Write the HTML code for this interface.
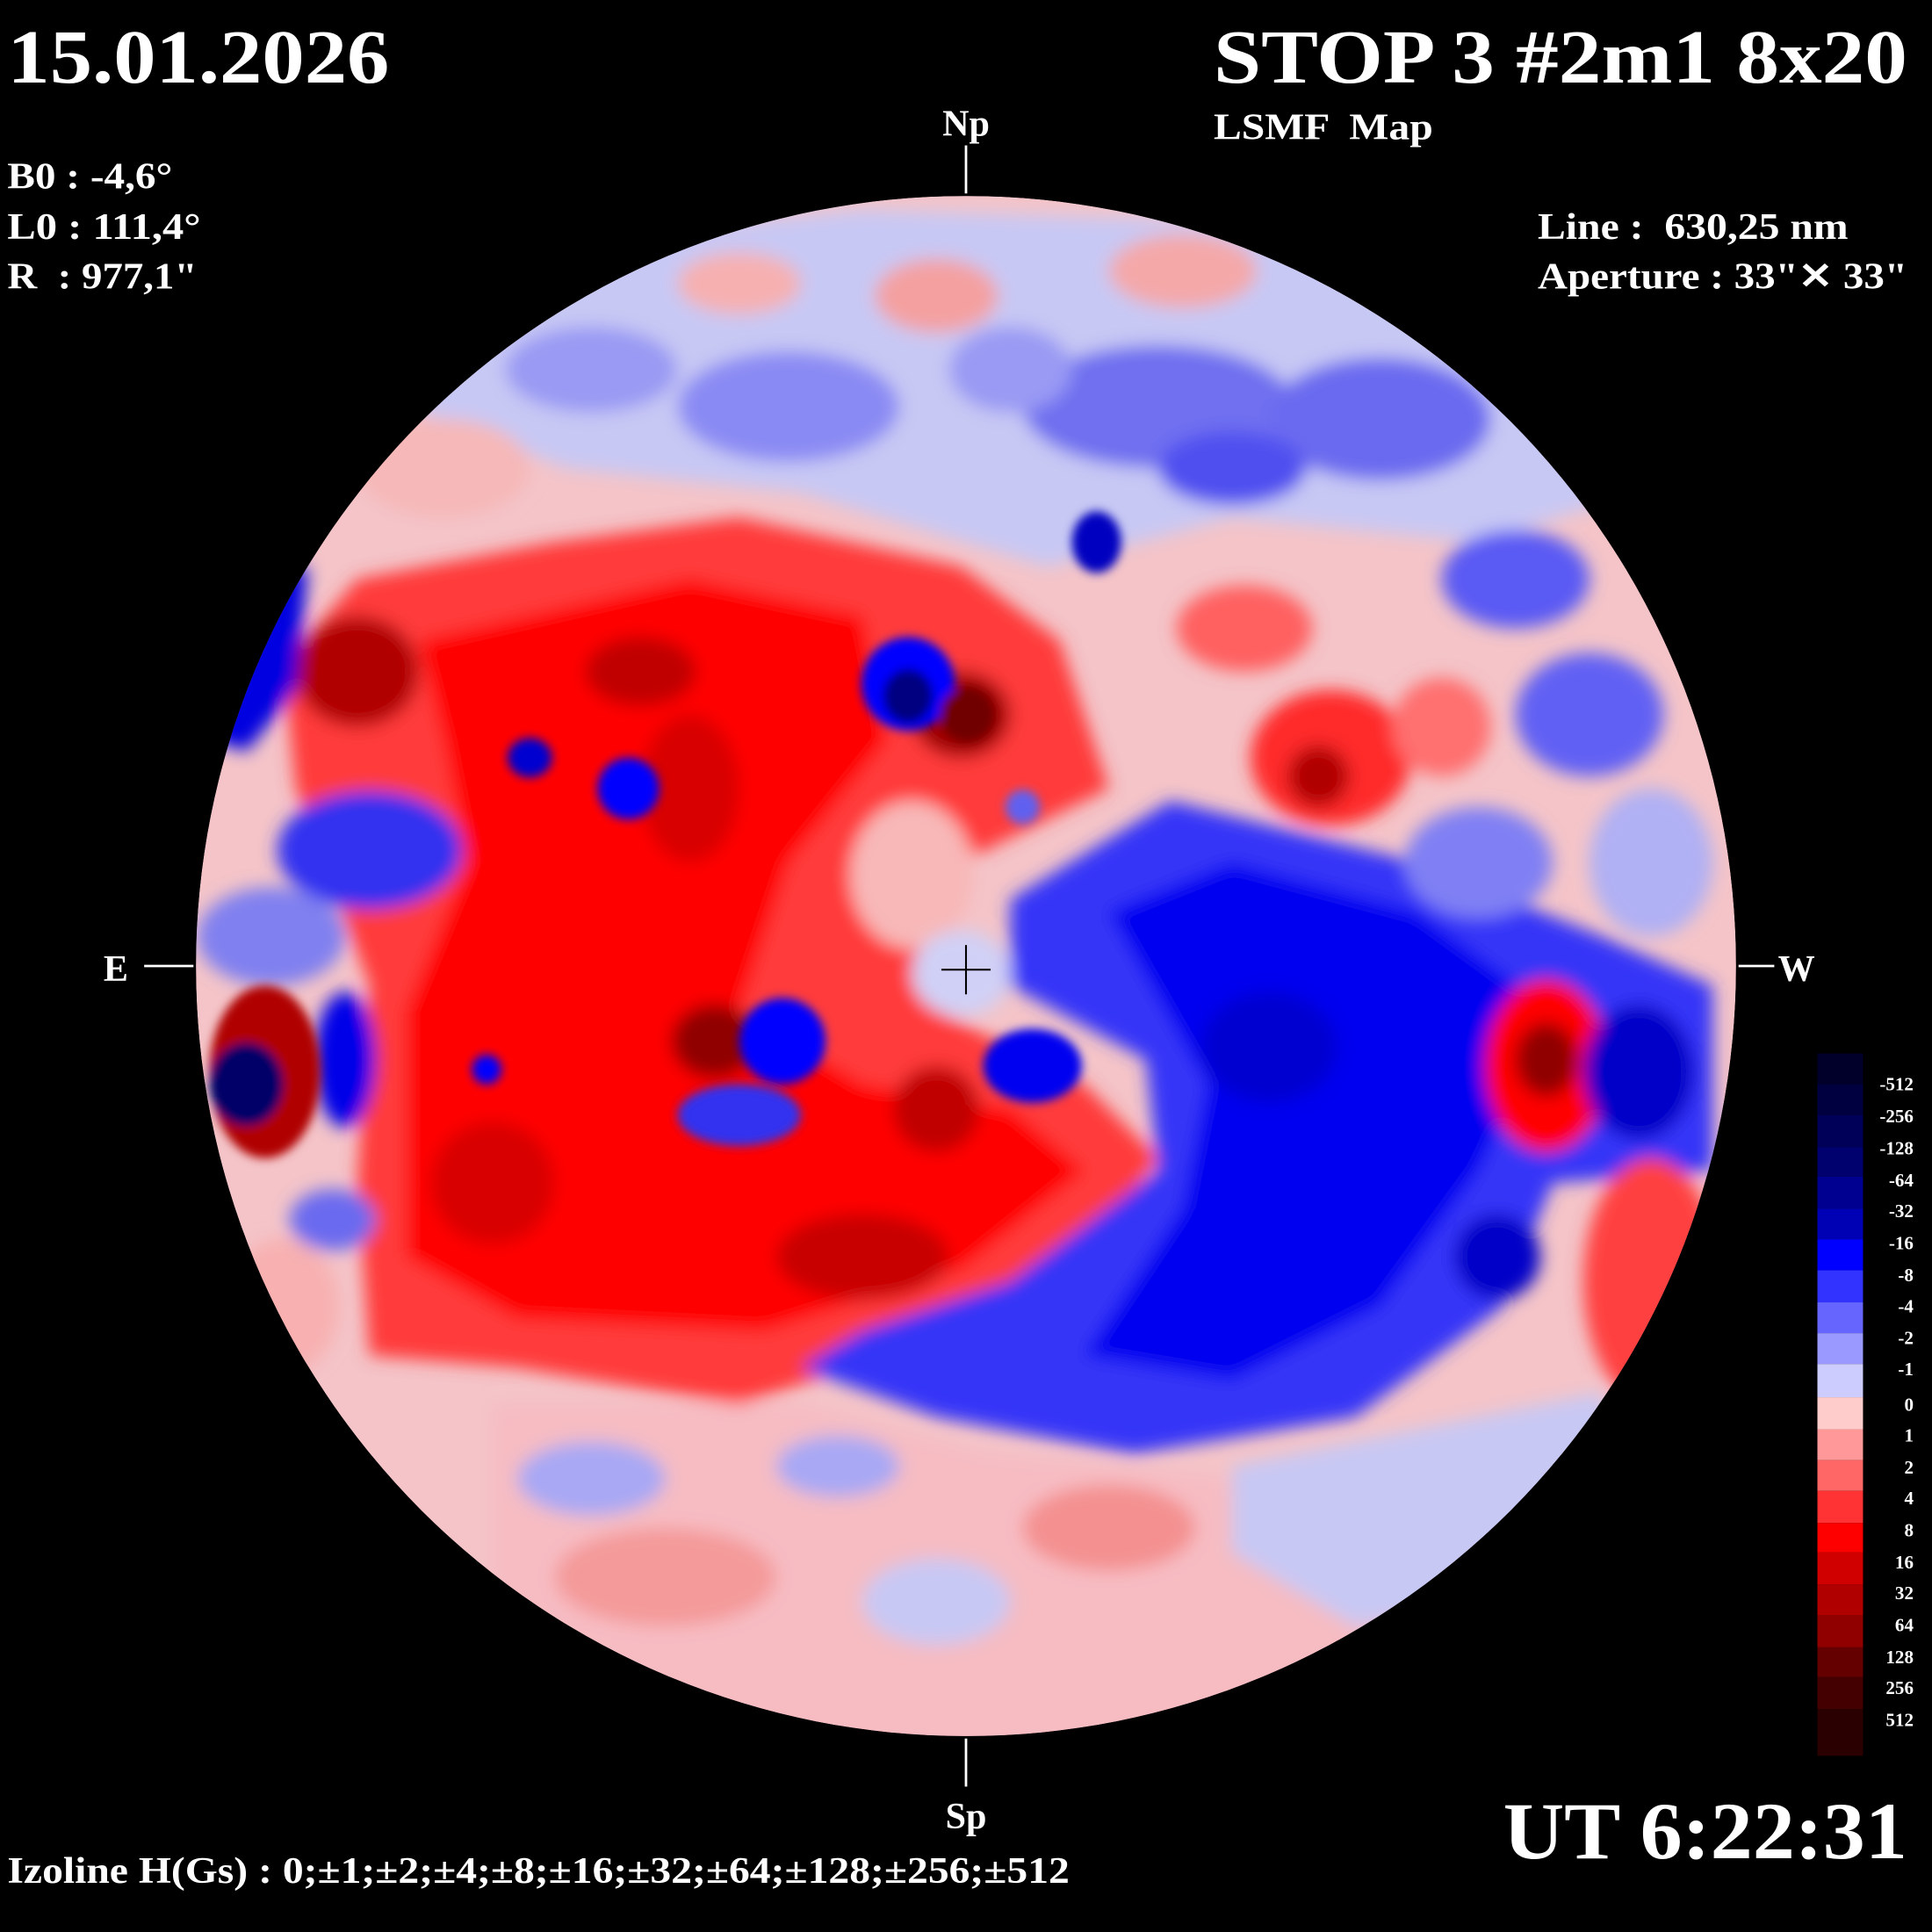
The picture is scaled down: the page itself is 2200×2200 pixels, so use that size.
<!DOCTYPE html>
<html><head><meta charset="utf-8"><style>
html,body{margin:0;padding:0;background:#000;}
svg{display:block;}
text{font-family:"Liberation Serif",serif;font-weight:bold;fill:#fff;}
</style></head><body>
<svg width="2200" height="2200" viewBox="0 0 1568 1568" xmlns="http://www.w3.org/2000/svg">
<defs>
<clipPath id="disk"><circle cx="784" cy="784" r="625"/></clipPath>
<filter id="bl" x="-10%" y="-10%" width="120%" height="120%"><feGaussianBlur stdDeviation="7"/></filter>
<filter id="bl2" x="-10%" y="-10%" width="120%" height="120%"><feGaussianBlur stdDeviation="4"/></filter>
</defs>
<rect width="1568" height="1568" fill="#000"/>
<g clip-path="url(#disk)">
<circle cx="784" cy="784" r="625" fill="#f4c4c8"/>
<g filter="url(#bl)">
<!-- top light blue mix -->
<path d="M400,200 L700,170 L1000,180 L1250,260 L1330,400 L1200,440 L1000,420 L850,460 L650,400 L460,380 L330,330 Z" fill="#c8c8f4"/>
<ellipse cx="640" cy="330" rx="90" ry="45" fill="#8a8af4"/>
<ellipse cx="940" cy="330" rx="110" ry="50" fill="#7070f0"/>
<ellipse cx="1120" cy="340" rx="90" ry="50" fill="#6a6af0"/>
<ellipse cx="1000" cy="380" rx="60" ry="30" fill="#5050f0"/>
<ellipse cx="480" cy="300" rx="70" ry="35" fill="#9a9af4"/>
<ellipse cx="820" cy="300" rx="50" ry="35" fill="#9a9af4"/>
<ellipse cx="760" cy="240" rx="50" ry="30" fill="#f4a0a0"/>
<ellipse cx="960" cy="220" rx="60" ry="30" fill="#f4a8a8"/>
<ellipse cx="600" cy="230" rx="50" ry="25" fill="#f6b0b0"/>
<ellipse cx="360" cy="380" rx="70" ry="40" fill="#f6b8b8"/>
<!-- big red region -->
<path d="M290,470 L450,440 L600,420 L780,460 L860,520 L900,640 L800,690 L740,720 L760,820 L880,880 L940,940 L860,1040 L720,1100 L600,1140 L420,1110 L300,1100 L290,960 L300,800 L240,640 L230,540 Z" fill="#ff3a3a"/>
<path d="M340,520 L560,470 L700,500 L720,600 L640,700 L600,820 L700,880 L820,900 L880,950 L780,1030 L620,1080 L420,1070 L330,1020 L330,820 L380,700 L360,600 Z" fill="#ff0000"/>
<ellipse cx="290" cy="545" rx="50" ry="45" fill="#b00000"/>
<ellipse cx="520" cy="545" rx="45" ry="28" fill="#c00000"/>
<ellipse cx="580" cy="845" rx="35" ry="30" fill="#900000"/>
<ellipse cx="760" cy="900" rx="35" ry="35" fill="#c00000"/>
<ellipse cx="560" cy="640" rx="40" ry="60" fill="#d80000"/>
<ellipse cx="400" cy="960" rx="50" ry="50" fill="#d80000"/>
<ellipse cx="700" cy="1020" rx="70" ry="35" fill="#c80000"/>
<ellipse cx="780" cy="580" rx="40" ry="35" fill="#a00000"/>
<!-- pinkish middle -->
<ellipse cx="740" cy="710" rx="50" ry="60" fill="#f8b8b8"/>
<ellipse cx="780" cy="790" rx="40" ry="35" fill="#d0d0f6"/>
<!-- blue left -->
<path d="M180,470 L250,460 L240,560 L200,610 L170,600 Z" fill="#0000e0"/>
<ellipse cx="300" cy="690" rx="75" ry="48" fill="#3030f0"/>
<ellipse cx="220" cy="760" rx="60" ry="40" fill="#8080f0"/>
<ellipse cx="280" cy="860" rx="25" ry="55" fill="#0000e8"/>
<ellipse cx="270" cy="990" rx="35" ry="25" fill="#6a6af0"/>
<!-- big blue right -->
<path d="M820,730 L950,650 L1150,700 L1300,760 L1390,800 L1390,950 L1260,960 L1220,1060 L1100,1150 L920,1180 L760,1150 L650,1110 L700,1080 L820,1040 L940,950 L930,860 L820,800 Z" fill="#3535f8"/>
<path d="M900,740 L1000,700 L1150,740 L1260,820 L1200,950 L1120,1060 L1000,1120 L880,1100 L960,980 L980,880 Z" fill="#0000f0"/>
<ellipse cx="1030" cy="850" rx="55" ry="45" fill="#0000d0"/>
<ellipse cx="1215" cy="1020" rx="35" ry="35" fill="#0000c8"/>
<!-- right side mixed near limb -->
<ellipse cx="1230" cy="470" rx="60" ry="40" fill="#5a5af4"/>
<ellipse cx="1290" cy="580" rx="60" ry="50" fill="#6060f4"/>
<ellipse cx="1200" cy="700" rx="60" ry="45" fill="#8080f4"/>
<ellipse cx="1340" cy="700" rx="50" ry="60" fill="#b0b0f4"/>
<!-- red blob right upper -->
<ellipse cx="1080" cy="615" rx="65" ry="55" fill="#ff2a2a"/>
<ellipse cx="1070" cy="630" rx="25" ry="25" fill="#b00000"/>
<ellipse cx="1010" cy="510" rx="55" ry="35" fill="#ff6060"/>
<ellipse cx="1170" cy="590" rx="40" ry="40" fill="#ff7070"/>
<!-- red blob right -->
<ellipse cx="1255" cy="865" rx="50" ry="70" fill="#ff0000"/>
<ellipse cx="1255" cy="860" rx="25" ry="30" fill="#900000"/>
<ellipse cx="1330" cy="870" rx="45" ry="55" fill="#0000c8"/>
<ellipse cx="1340" cy="1040" rx="55" ry="100" fill="#ff4040"/>
<!-- bottom light -->
<path d="M400,1140 L650,1140 L800,1180 L1000,1200 L1300,1150 L1300,1420 L400,1420 Z" fill="#f6bcc2"/>
<path d="M1000,1190 L1300,1130 L1330,1280 L1100,1320 L1000,1260 Z" fill="#c8c8f4"/>
<ellipse cx="900" cy="1240" rx="70" ry="35" fill="#f49090"/>
<ellipse cx="540" cy="1280" rx="90" ry="40" fill="#f49a9a"/>
<ellipse cx="760" cy="1300" rx="60" ry="35" fill="#c8c8f4"/>
<ellipse cx="480" cy="1200" rx="60" ry="30" fill="#a8a8f4"/>
<ellipse cx="680" cy="1190" rx="50" ry="25" fill="#a8a8f4"/>
<ellipse cx="230" cy="1060" rx="45" ry="55" fill="#f8b0b0"/>
</g>
<g filter="url(#bl2)">
<ellipse cx="737" cy="555" rx="38" ry="38" fill="#0000ff"/>
<ellipse cx="737" cy="565" rx="20" ry="22" fill="#000080"/>
<ellipse cx="785" cy="580" rx="22" ry="22" fill="#700000"/>
<ellipse cx="635" cy="845" rx="35" ry="35" fill="#0000ff"/>
<ellipse cx="600" cy="905" rx="50" ry="25" fill="#3030f0"/>
<ellipse cx="215" cy="870" rx="45" ry="70" fill="#b00000"/>
<ellipse cx="200" cy="880" rx="30" ry="34" fill="#000068"/>
<ellipse cx="510" cy="640" rx="25" ry="25" fill="#0000ff"/>
<ellipse cx="430" cy="615" rx="18" ry="16" fill="#0000d0"/>
<ellipse cx="395" cy="868" rx="12" ry="12" fill="#0000ff"/>
<ellipse cx="838" cy="865" rx="40" ry="30" fill="#0000f0"/>
<ellipse cx="890" cy="440" rx="20" ry="25" fill="#0000c0"/>
<ellipse cx="830" cy="655" rx="14" ry="14" fill="#6060f0"/>
</g>
</g>
<g stroke="#fff" stroke-width="2">
<line x1="784" y1="118" x2="784" y2="157"/>
<line x1="784" y1="1411" x2="784" y2="1450"/>
<line x1="117" y1="784" x2="157" y2="784"/>
<line x1="1411" y1="784" x2="1440" y2="784"/>
</g>
<g stroke="#000" stroke-width="1.5">
<line x1="764" y1="787" x2="804" y2="787"/>
<line x1="784" y1="767" x2="784" y2="807"/>
</g>
<text x="784" y="110" font-size="30" text-anchor="middle">Np</text>
<text x="784" y="1484" font-size="30" text-anchor="middle">Sp</text>
<text x="84" y="796" font-size="30">E</text>
<text x="1443" y="796" font-size="30">W</text>
<text x="6" y="67" font-size="62" textLength="310" lengthAdjust="spacingAndGlyphs">15.01.2026</text>
<text x="985" y="67" font-size="62" textLength="563" lengthAdjust="spacingAndGlyphs">STOP 3 #2m1 8x20</text>
<text x="985" y="113" font-size="30" textLength="178" lengthAdjust="spacingAndGlyphs" xml:space="preserve">LSMF  Map</text>
<text x="6" y="153" font-size="30" textLength="134" lengthAdjust="spacingAndGlyphs">B0 : -4,6°</text>
<text x="6" y="194" font-size="30" textLength="157" lengthAdjust="spacingAndGlyphs">L0 : 111,4°</text>
<text x="6" y="234" font-size="30" textLength="154" lengthAdjust="spacingAndGlyphs" xml:space="preserve">R  : 977,1"</text>
<text x="1248" y="194" font-size="30" textLength="252" lengthAdjust="spacingAndGlyphs" xml:space="preserve">Line :  630,25 nm</text>
<text x="1248" y="234" font-size="30" textLength="300" lengthAdjust="spacingAndGlyphs">Aperture : 33"✕ 33"</text>
<text x="1220" y="1508" font-size="66" textLength="328" lengthAdjust="spacingAndGlyphs">UT 6:22:31</text>
<text x="6" y="1528" font-size="30" textLength="862" lengthAdjust="spacingAndGlyphs">Izoline H(Gs) : 0;±1;±2;±4;±8;±16;±32;±64;±128;±256;±512</text>
<g>
<rect x="1475" y="855" width="37" height="25" fill="#00002a"/>
<rect x="1475" y="880" width="37" height="25" fill="#000040"/>
<rect x="1475" y="905" width="37" height="26" fill="#000058"/>
<rect x="1475" y="931" width="37" height="24" fill="#00006e"/>
<rect x="1475" y="955" width="37" height="26" fill="#000090"/>
<rect x="1475" y="981" width="37" height="25" fill="#0000b4"/>
<rect x="1475" y="1006" width="37" height="25" fill="#0000ff"/>
<rect x="1475" y="1031" width="37" height="26" fill="#3333ff"/>
<rect x="1475" y="1057" width="37" height="25" fill="#6666ff"/>
<rect x="1475" y="1082" width="37" height="25" fill="#9999ff"/>
<rect x="1475" y="1107" width="37" height="27" fill="#ccccff"/>
<rect x="1475" y="1134" width="37" height="26" fill="#ffcccc"/>
<rect x="1475" y="1160" width="37" height="25" fill="#ff9999"/>
<rect x="1475" y="1185" width="37" height="25" fill="#ff6666"/>
<rect x="1475" y="1210" width="37" height="26" fill="#ff3333"/>
<rect x="1475" y="1236" width="37" height="24" fill="#ff0000"/>
<rect x="1475" y="1260" width="37" height="26" fill="#d00000"/>
<rect x="1475" y="1286" width="37" height="25" fill="#b00000"/>
<rect x="1475" y="1311" width="37" height="26" fill="#900000"/>
<rect x="1475" y="1337" width="37" height="24" fill="#640000"/>
<rect x="1475" y="1361" width="37" height="26" fill="#440000"/>
<rect x="1475" y="1387" width="37" height="38" fill="#2a0000"/>
</g>
<g font-size="15" text-anchor="end">
<text x="1553" y="885">-512</text>
<text x="1553" y="911">-256</text>
<text x="1553" y="937">-128</text>
<text x="1553" y="963">-64</text>
<text x="1553" y="988">-32</text>
<text x="1553" y="1014">-16</text>
<text x="1553" y="1040">-8</text>
<text x="1553" y="1065">-4</text>
<text x="1553" y="1091">-2</text>
<text x="1553" y="1116">-1</text>
<text x="1553" y="1145">0</text>
<text x="1553" y="1170">1</text>
<text x="1553" y="1196">2</text>
<text x="1553" y="1221">4</text>
<text x="1553" y="1247">8</text>
<text x="1553" y="1273">16</text>
<text x="1553" y="1298">32</text>
<text x="1553" y="1324">64</text>
<text x="1553" y="1350">128</text>
<text x="1553" y="1375">256</text>
<text x="1553" y="1401">512</text>
</g>
</svg>
</body></html>
